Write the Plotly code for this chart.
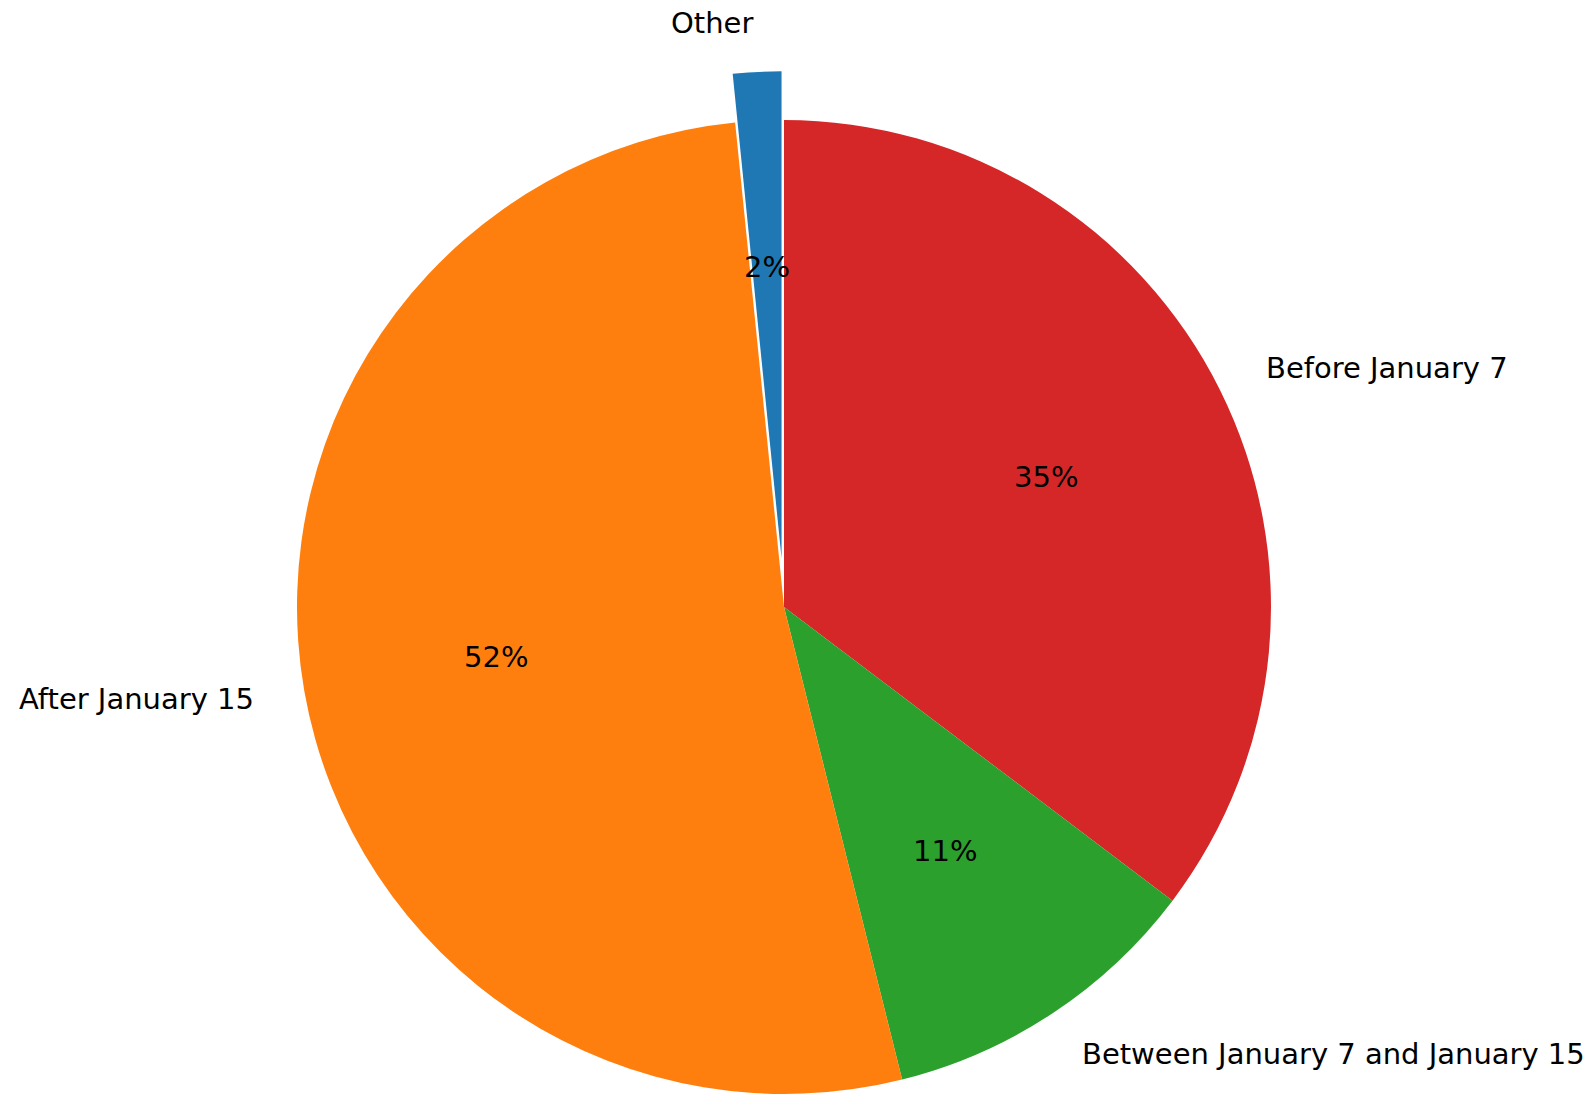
import math
import plotly.graph_objects as go

# Data
labels = ["Before January 7", "Between January 7 and January 15", "After January 15", "Other"]
values = [35.3, 10.8, 52.3, 1.6]
colors = ["#d62728", "#2ca02c", "#ff7f0e", "#1f77b4"]
explode = [0, 0, 0, 0.1]

# Layout geometry (pixels, figure coords; page body adds an 8px offset)
W, H = 1593, 1094
CX, CY, R = 776.0, 599.0, 487.0
FONT = dict(family="DejaVu Sans", size=29, color="black")

total = sum(values)
fig = go.Figure()

def domain_for(cx, cy):
    return dict(x=[(cx - R) / W, (cx + R) / W],
                y=[(H - cy - R) / H, (H - cy + R) / H])

annotations = []
cum = 0.0
centers = []
for i, v in enumerate(values):
    a0 = cum / total * 360.0
    cum += v
    a1 = cum / total * 360.0
    mid = math.radians((a0 + a1) / 2.0)
    sx, sy = math.sin(mid), math.cos(mid)  # clockwise from top; sy up
    ox = CX + explode[i] * R * sx
    oy = CY - explode[i] * R * sy
    centers.append((ox, oy))
    lx = ox + 1.1 * R * sx
    ly = oy - 1.1 * R * sy
    annotations.append(dict(x=lx / W, y=1 - ly / H, xref="paper", yref="paper",
                            text=labels[i], showarrow=False,
                            xanchor="left" if sx > 0 else "right", yanchor="middle",
                            font=FONT))
    px = ox + 0.6 * R * sx
    py = oy - 0.6 * R * sy
    annotations.append(dict(x=px / W, y=1 - py / H, xref="paper", yref="paper",
                            text=f"{v / total * 100:.0f}%", showarrow=False,
                            xanchor="center", yanchor="middle", font=FONT))

main_colors = [c if e == 0 else "rgba(0,0,0,0)" for c, e in zip(colors, explode)]
fig.add_trace(go.Pie(labels=labels, values=values, sort=False, direction="clockwise",
                     rotation=0, marker=dict(colors=main_colors, line=dict(width=0)),
                     textinfo="none", hoverinfo="label+percent", showlegend=False,
                     domain=domain_for(CX, CY)))

for i, e in enumerate(explode):
    if e == 0:
        continue
    ecolors = [colors[j] if j == i else "rgba(0,0,0,0)" for j in range(len(values))]
    ox, oy = centers[i]
    fig.add_trace(go.Pie(labels=labels, values=values, sort=False, direction="clockwise",
                         rotation=0, marker=dict(colors=ecolors, line=dict(width=0)),
                         textinfo="none", hoverinfo="label+percent", showlegend=False,
                         domain=domain_for(ox, oy)))

fig.update_layout(width=W, height=H, margin=dict(l=0, r=0, t=0, b=0),
                  paper_bgcolor="white", plot_bgcolor="white",
                  annotations=annotations)
fig.write_html("out.html")
